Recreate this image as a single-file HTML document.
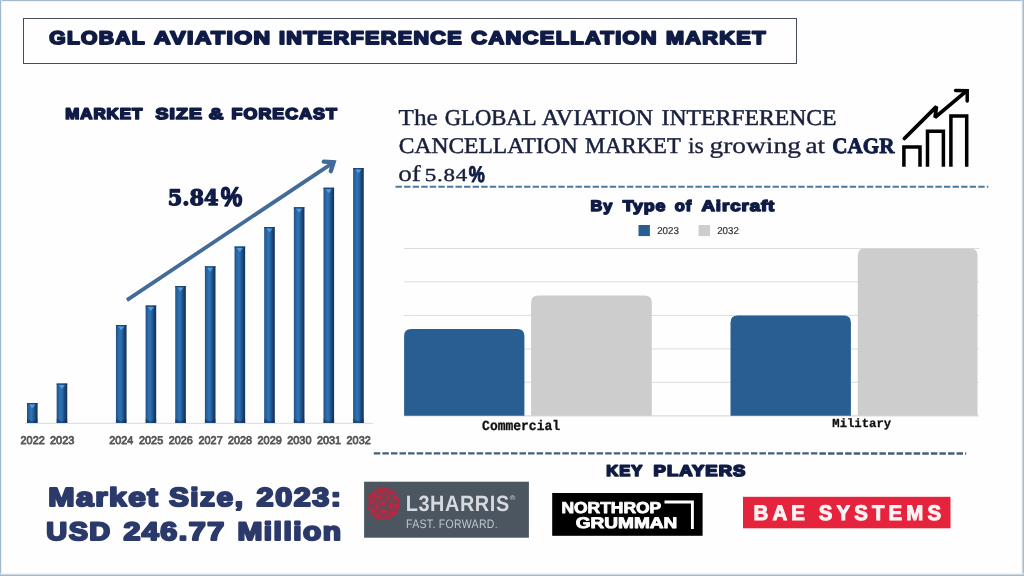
<!DOCTYPE html>
<html lang="en">
<head>
<meta charset="utf-8">
<title>Global Aviation Interference Cancellation Market</title>
<style>
html,body{margin:0;padding:0;background:#fefefe;}
body{width:1024px;height:576px;overflow:hidden;font-family:"Liberation Sans",sans-serif;}
svg{display:block;}
svg text{text-rendering:geometricPrecision;}
</style>
</head>
<body>
<svg width="1024" height="576" viewBox="0 0 1024 576" role="img" aria-label="Global Aviation Interference Cancellation Market infographic">
<defs>
<linearGradient id="bar" x1="0" x2="1" y1="0" y2="0">
<stop offset="0" stop-color="#1c4b7f"/>
<stop offset="0.14" stop-color="#2561a0"/>
<stop offset="0.4" stop-color="#2f74b5"/>
<stop offset="0.6" stop-color="#26609d"/>
<stop offset="0.8" stop-color="#1a4271"/>
<stop offset="1" stop-color="#13315a"/>
</linearGradient>
</defs>
<rect x="0" y="0" width="1024" height="576" fill="#fefefe"/>
<rect x="0" y="0" width="1024" height="1" fill="#a4b9ca"/>
<rect x="0" y="1" width="1024" height="1" fill="#e4f0f8" opacity="0.7"/>
<rect x="0" y="0" width="1" height="576" fill="#9fb8cc"/>
<rect x="1" y="0" width="1" height="576" fill="#e4f0f8" opacity="0.7"/>
<rect x="1022.4" y="0" width="1.6" height="576" fill="#a4b9ca"/>
<rect x="1021" y="0" width="1.4" height="576" fill="#e4f0f8" opacity="0.7"/>
<rect x="0" y="574.4" width="1024" height="1.6" fill="#a4b9ca"/>
<rect x="0" y="573" width="1024" height="1.4" fill="#e4f0f8" opacity="0.7"/>
<rect x="23.5" y="18.5" width="773" height="45" fill="none" stroke="#474c5c" stroke-width="1"/>
<g id="forecast-chart">
<line x1="25" y1="423.3" x2="373" y2="423.3" stroke="#d9d9d9" stroke-width="1"/>
<rect x="27.00" y="403" width="10.6" height="20.0" fill="url(#bar)"/>
<rect x="27.00" y="403" width="10.6" height="1.2" fill="#1a3f6c" opacity="0.8"/>
<path d="M29.20 404.5 h6.2 l-3.1 4 z" fill="#5aa6e8" opacity="0.8"/>
<path d="M27.00 418.8 L32.30 421.4 L37.60 418.8 V423 H27.00 Z" fill="#12305a" opacity="0.5"/>
<rect x="56.65" y="383.5" width="10.6" height="39.5" fill="url(#bar)"/>
<rect x="56.65" y="383.5" width="10.6" height="1.2" fill="#1a3f6c" opacity="0.8"/>
<path d="M58.85 385.0 h6.2 l-3.1 4 z" fill="#5aa6e8" opacity="0.8"/>
<path d="M56.65 418.8 L61.95 421.4 L67.25 418.8 V423 H56.65 Z" fill="#12305a" opacity="0.5"/>
<rect x="115.95" y="325" width="10.6" height="98.0" fill="url(#bar)"/>
<rect x="115.95" y="325" width="10.6" height="1.2" fill="#1a3f6c" opacity="0.8"/>
<path d="M118.15 326.5 h6.2 l-3.1 4 z" fill="#5aa6e8" opacity="0.8"/>
<path d="M115.95 418.8 L121.25 421.4 L126.55 418.8 V423 H115.95 Z" fill="#12305a" opacity="0.5"/>
<rect x="145.60" y="305.5" width="10.6" height="117.5" fill="url(#bar)"/>
<rect x="145.60" y="305.5" width="10.6" height="1.2" fill="#1a3f6c" opacity="0.8"/>
<path d="M147.80 307.0 h6.2 l-3.1 4 z" fill="#5aa6e8" opacity="0.8"/>
<path d="M145.60 418.8 L150.90 421.4 L156.20 418.8 V423 H145.60 Z" fill="#12305a" opacity="0.5"/>
<rect x="175.25" y="286" width="10.6" height="137.0" fill="url(#bar)"/>
<rect x="175.25" y="286" width="10.6" height="1.2" fill="#1a3f6c" opacity="0.8"/>
<path d="M177.45 287.5 h6.2 l-3.1 4 z" fill="#5aa6e8" opacity="0.8"/>
<path d="M175.25 418.8 L180.55 421.4 L185.85 418.8 V423 H175.25 Z" fill="#12305a" opacity="0.5"/>
<rect x="204.90" y="266.3" width="10.6" height="156.7" fill="url(#bar)"/>
<rect x="204.90" y="266.3" width="10.6" height="1.2" fill="#1a3f6c" opacity="0.8"/>
<path d="M207.10 267.8 h6.2 l-3.1 4 z" fill="#5aa6e8" opacity="0.8"/>
<path d="M204.90 418.8 L210.20 421.4 L215.50 418.8 V423 H204.90 Z" fill="#12305a" opacity="0.5"/>
<rect x="234.55" y="246.5" width="10.6" height="176.5" fill="url(#bar)"/>
<rect x="234.55" y="246.5" width="10.6" height="1.2" fill="#1a3f6c" opacity="0.8"/>
<path d="M236.75 248.0 h6.2 l-3.1 4 z" fill="#5aa6e8" opacity="0.8"/>
<path d="M234.55 418.8 L239.85 421.4 L245.15 418.8 V423 H234.55 Z" fill="#12305a" opacity="0.5"/>
<rect x="264.20" y="227" width="10.6" height="196.0" fill="url(#bar)"/>
<rect x="264.20" y="227" width="10.6" height="1.2" fill="#1a3f6c" opacity="0.8"/>
<path d="M266.40 228.5 h6.2 l-3.1 4 z" fill="#5aa6e8" opacity="0.8"/>
<path d="M264.20 418.8 L269.50 421.4 L274.80 418.8 V423 H264.20 Z" fill="#12305a" opacity="0.5"/>
<rect x="293.85" y="207.2" width="10.6" height="215.8" fill="url(#bar)"/>
<rect x="293.85" y="207.2" width="10.6" height="1.2" fill="#1a3f6c" opacity="0.8"/>
<path d="M296.05 208.7 h6.2 l-3.1 4 z" fill="#5aa6e8" opacity="0.8"/>
<path d="M293.85 418.8 L299.15 421.4 L304.45 418.8 V423 H293.85 Z" fill="#12305a" opacity="0.5"/>
<rect x="323.50" y="187.7" width="10.6" height="235.3" fill="url(#bar)"/>
<rect x="323.50" y="187.7" width="10.6" height="1.2" fill="#1a3f6c" opacity="0.8"/>
<path d="M325.70 189.2 h6.2 l-3.1 4 z" fill="#5aa6e8" opacity="0.8"/>
<path d="M323.50 418.8 L328.80 421.4 L334.10 418.8 V423 H323.50 Z" fill="#12305a" opacity="0.5"/>
<rect x="353.15" y="168" width="10.6" height="255.0" fill="url(#bar)"/>
<rect x="353.15" y="168" width="10.6" height="1.2" fill="#1a3f6c" opacity="0.8"/>
<path d="M355.35 169.5 h6.2 l-3.1 4 z" fill="#5aa6e8" opacity="0.8"/>
<path d="M353.15 418.8 L358.45 421.4 L363.75 418.8 V423 H353.15 Z" fill="#12305a" opacity="0.5"/>
<g fill="none" stroke="#416c98" stroke-width="4.4">
<path d="M126.9 300.1 L333.2 162.6" stroke-linecap="butt" stroke-width="3.8"/>
<path d="M323.8 161.6 L333.6 162.2 L330.8 171.2" stroke-linecap="round" stroke-linejoin="miter"/>
</g>
</g>
<line x1="395.5" y1="186.8" x2="988.3" y2="186.8" stroke="#4b7a9c" stroke-width="2.1" stroke-dasharray="6.4 2.17"/>
<line x1="373.8" y1="453.4" x2="966.2" y2="453.5" stroke="#465f76" stroke-width="2.3" stroke-dasharray="6.5 2.07"/>
<g id="growth-icon" fill="none" stroke="#000" stroke-width="3.5" stroke-linejoin="miter" stroke-linecap="butt">
<path d="M903.9 166.8 V147 H920 V166.8"/>
<path d="M927.5 166.8 V131.2 H943.4 V166.8"/>
<path d="M950.9 166.8 V115.9 H966.7 V166.8"/>
<path d="M904.4 138.5 L936.4 106.6 L935.1 117.4 L966 91.4" stroke-width="3.8" stroke-linecap="round" stroke-linejoin="miter" stroke-miterlimit="2.2"/>
<path d="M955.5 90.4 L967.2 90.8 V101" stroke-linecap="round"/>
</g>
<g id="type-chart">
<line x1="404" y1="248.5" x2="979" y2="248.5" stroke="#dcdcdc" stroke-width="1"/>
<line x1="404" y1="281.8" x2="979" y2="281.8" stroke="#dcdcdc" stroke-width="1"/>
<line x1="404" y1="315.4" x2="979" y2="315.4" stroke="#dcdcdc" stroke-width="1"/>
<line x1="404" y1="348.9" x2="979" y2="348.9" stroke="#dcdcdc" stroke-width="1"/>
<line x1="404" y1="382.3" x2="979" y2="382.3" stroke="#dcdcdc" stroke-width="1"/>
<line x1="404" y1="415.9" x2="979" y2="415.9" stroke="#d0d0d0" stroke-width="1"/>
<path d="M404.1 415.7 V336 Q404.1 329 411.1 329 H517.4 Q524.4 329 524.4 336 V415.7 Z" fill="#285e92"/>
<path d="M531.1 415.7 V302.6 Q531.1 295.6 538.1 295.6 H644.8 Q651.8 295.6 651.8 302.6 V415.7 Z" fill="#cdcdcd"/>
<path d="M730.5 415.7 V322.6 Q730.5 315.6 737.5 315.6 H843.9 Q850.9 315.6 850.9 322.6 V415.7 Z" fill="#285e92"/>
<path d="M857.8 415.7 V255.4 Q857.8 248.4 864.8 248.4 H970.5 Q977.5 248.4 977.5 255.4 V415.7 Z" fill="#cdcdcd"/>
<rect x="638.5" y="225" width="11.4" height="11.1" fill="#285e92"/>
<rect x="698.6" y="225" width="11.4" height="11.1" fill="#cdcdcd"/>
</g>
<g id="logo-l3harris">
<rect x="364.1" y="481.7" width="164.8" height="56" fill="#4b5660"/>
<circle cx="383.2" cy="503.6" r="16.0" fill="#c21f3a" opacity="0.25"/>
<path d="M383.2 503.6L391.1 506.5 M383.2 503.6L383.7 511.5 M383.2 503.6L376.7 506.0 M383.2 503.6L379.8 497.6 M383.2 503.6L388.7 497.9 M391.1 506.5L383.7 511.5 M383.7 511.5L376.7 506.0 M376.7 506.0L379.8 497.6 M379.8 497.6L388.7 497.9 M388.7 497.9L391.1 506.5 M391.1 506.5L396.9 505.2 M388.7 497.9L396.9 505.2 M391.1 506.5L393.7 512.6 M383.7 511.5L393.7 512.6 M383.7 511.5L386.8 516.6 M391.1 506.5L386.8 516.6 M383.7 511.5L378.8 515.8 M376.7 506.0L378.8 515.8 M376.7 506.0L372.8 510.5 M383.7 511.5L372.8 510.5 M376.7 506.0L371.1 502.6 M379.8 497.6L371.1 502.6 M379.8 497.6L374.3 495.2 M376.7 506.0L374.3 495.2 M379.8 497.6L381.2 491.2 M388.7 497.9L381.2 491.2 M388.7 497.9L389.2 492.0 M379.8 497.6L389.2 492.0 M388.7 497.9L395.2 497.3 M391.1 506.5L395.2 497.3 M396.9 505.2L393.7 512.6 M393.7 512.6L386.8 516.6 M386.8 516.6L378.8 515.8 M378.8 515.8L372.8 510.5 M372.8 510.5L371.1 502.6 M371.1 502.6L374.3 495.2 M374.3 495.2L381.2 491.2 M381.2 491.2L389.2 492.0 M389.2 492.0L395.2 497.3 M395.2 497.3L396.9 505.2 M396.9 505.2L398.9 506.8 M393.7 512.6L398.9 506.8 M393.7 512.6L395.9 513.3 M396.9 505.2L395.9 513.3 M386.8 516.6L390.5 517.8 M393.7 512.6L390.5 517.8 M386.8 516.6L383.6 519.6 M378.8 515.8L383.6 519.6 M378.8 515.8L376.6 518.2 M372.8 510.5L376.6 518.2 M372.8 510.5L370.9 513.9 M378.8 515.8L370.9 513.9 M372.8 510.5L367.7 507.5 M371.1 502.6L367.7 507.5 M371.1 502.6L367.5 500.4 M374.3 495.2L367.5 500.4 M374.3 495.2L370.5 493.9 M371.1 502.6L370.5 493.9 M381.2 491.2L375.9 489.4 M374.3 495.2L375.9 489.4 M381.2 491.2L382.8 487.6 M389.2 492.0L382.8 487.6 M389.2 492.0L389.8 489.0 M381.2 491.2L389.8 489.0 M395.2 497.3L395.5 493.3 M389.2 492.0L395.5 493.3 M395.2 497.3L398.7 499.7 M396.9 505.2L398.7 499.7 M398.9 506.8L395.9 513.3 M395.9 513.3L390.5 517.8 M390.5 517.8L383.6 519.6 M383.6 519.6L376.6 518.2 M376.6 518.2L370.9 513.9 M370.9 513.9L367.7 507.5 M367.7 507.5L367.5 500.4 M367.5 500.4L370.5 493.9 M370.5 493.9L375.9 489.4 M375.9 489.4L382.8 487.6 M382.8 487.6L389.8 489.0 M389.8 489.0L395.5 493.3 M395.5 493.3L398.7 499.7 M398.7 499.7L398.9 506.8" stroke="#cc1f3b" stroke-width="1.0" fill="none" opacity="0.72" stroke-linecap="round"/>
<circle cx="383.2" cy="503.6" r="1.5" fill="#d81e3c" opacity="0.9"/>
<circle cx="391.1" cy="506.5" r="1.5" fill="#d81e3c" opacity="0.9"/>
<circle cx="383.7" cy="511.5" r="1.5" fill="#d81e3c" opacity="0.9"/>
<circle cx="376.7" cy="506.0" r="1.5" fill="#d81e3c" opacity="0.9"/>
<circle cx="379.8" cy="497.6" r="1.5" fill="#d81e3c" opacity="0.9"/>
<circle cx="388.7" cy="497.9" r="1.5" fill="#d81e3c" opacity="0.9"/>
<circle cx="396.9" cy="505.2" r="1.5" fill="#d81e3c" opacity="0.9"/>
<circle cx="393.7" cy="512.6" r="1.5" fill="#d81e3c" opacity="0.9"/>
<circle cx="386.8" cy="516.6" r="1.5" fill="#d81e3c" opacity="0.9"/>
<circle cx="378.8" cy="515.8" r="1.5" fill="#d81e3c" opacity="0.9"/>
<circle cx="372.8" cy="510.5" r="1.5" fill="#d81e3c" opacity="0.9"/>
<circle cx="371.1" cy="502.6" r="1.5" fill="#d81e3c" opacity="0.9"/>
<circle cx="374.3" cy="495.2" r="1.5" fill="#d81e3c" opacity="0.9"/>
<circle cx="381.2" cy="491.2" r="1.5" fill="#d81e3c" opacity="0.9"/>
<circle cx="389.2" cy="492.0" r="1.5" fill="#d81e3c" opacity="0.9"/>
<circle cx="395.2" cy="497.3" r="1.5" fill="#d81e3c" opacity="0.9"/>
</g>
<g id="logo-northrop">
<rect x="552.2" y="493" width="150.4" height="42.8" fill="#000"/>
<path d="M664.5 502 H692.4 V529" fill="none" stroke="#fff" stroke-width="2.9"/>
</g>
<g id="logo-bae">
<rect x="743" y="496.8" width="207.5" height="31.5" fill="#e5233d"/>
</g>
<g id="title">
<text transform="translate(49.33,44.09) scale(1.1544,1)" font-family="'Liberation Sans', sans-serif" font-weight="bold" font-size="18.24" fill="#101c46" stroke="#101c46" stroke-width="1.8" stroke-linejoin="round" letter-spacing="1.095">GLOBAL</text>
<text transform="translate(154.03,44.09) scale(1.2592,1)" font-family="'Liberation Sans', sans-serif" font-weight="bold" font-size="18.24" fill="#101c46" stroke="#101c46" stroke-width="1.8" stroke-linejoin="round" letter-spacing="1.095">AVIATION</text>
<text transform="translate(279.02,44.09) scale(1.1872,1)" font-family="'Liberation Sans', sans-serif" font-weight="bold" font-size="18.24" fill="#101c46" stroke="#101c46" stroke-width="1.8" stroke-linejoin="round" letter-spacing="1.095">INTERFERENCE</text>
<text transform="translate(471.37,44.09) scale(1.1990,1)" font-family="'Liberation Sans', sans-serif" font-weight="bold" font-size="18.24" fill="#101c46" stroke="#101c46" stroke-width="1.8" stroke-linejoin="round" letter-spacing="1.095">CANCELLATION</text>
<text transform="translate(665.96,44.09) scale(1.1917,1)" font-family="'Liberation Sans', sans-serif" font-weight="bold" font-size="18.24" fill="#101c46" stroke="#101c46" stroke-width="1.8" stroke-linejoin="round" letter-spacing="1.095">MARKET</text>
</g>
<g id="forecast-heading">
<text transform="translate(65.13,118.64) scale(1.0890,1)" font-family="'Liberation Sans', sans-serif" font-weight="bold" font-size="15.50" fill="#101c46" stroke="#101c46" stroke-width="1.7" stroke-linejoin="round" letter-spacing="0.930">MARKET</text>
<text transform="translate(155.44,118.64) scale(1.2488,1)" font-family="'Liberation Sans', sans-serif" font-weight="bold" font-size="15.50" fill="#101c46" stroke="#101c46" stroke-width="1.7" stroke-linejoin="round" letter-spacing="0.930">SIZE</text>
<text transform="translate(208.84,118.64) scale(1.3066,1)" font-family="'Liberation Sans', sans-serif" font-weight="bold" font-size="15.50" fill="#101c46" stroke="#101c46" stroke-width="1.7" stroke-linejoin="round" letter-spacing="0.930">&amp;</text>
<text transform="translate(231.59,118.64) scale(1.1468,1)" font-family="'Liberation Sans', sans-serif" font-weight="bold" font-size="15.50" fill="#101c46" stroke="#101c46" stroke-width="1.7" stroke-linejoin="round" letter-spacing="0.930">FORECAST</text>
</g>
<g id="type-heading">
<text transform="translate(590.58,211.22) scale(1.0650,1)" font-family="'Liberation Sans', sans-serif" font-weight="bold" font-size="15.32" fill="#101c46" stroke="#101c46" stroke-width="1.5" stroke-linejoin="round" letter-spacing="0.766">By</text>
<text transform="translate(622.68,211.22) scale(1.1593,1)" font-family="'Liberation Sans', sans-serif" font-weight="bold" font-size="15.32" fill="#101c46" stroke="#101c46" stroke-width="1.5" stroke-linejoin="round" letter-spacing="0.766">Type</text>
<text transform="translate(674.79,211.22) scale(1.0721,1)" font-family="'Liberation Sans', sans-serif" font-weight="bold" font-size="15.32" fill="#101c46" stroke="#101c46" stroke-width="1.5" stroke-linejoin="round" letter-spacing="0.766">of</text>
<text transform="translate(701.43,211.22) scale(1.2182,1)" font-family="'Liberation Sans', sans-serif" font-weight="bold" font-size="15.32" fill="#101c46" stroke="#101c46" stroke-width="1.5" stroke-linejoin="round" letter-spacing="0.766">Aircraft</text>
</g>
<g id="key-players-heading">
<text transform="translate(606.17,476.24) scale(1.0612,1)" font-family="'Liberation Sans', sans-serif" font-weight="bold" font-size="15.64" fill="#101c46" stroke="#101c46" stroke-width="1.7" stroke-linejoin="round" letter-spacing="0.938">KEY</text>
<text transform="translate(653.53,476.24) scale(1.1776,1)" font-family="'Liberation Sans', sans-serif" font-weight="bold" font-size="15.64" fill="#101c46" stroke="#101c46" stroke-width="1.7" stroke-linejoin="round" letter-spacing="0.938">PLAYERS</text>
</g>
<g id="market-size">
<text transform="translate(48.20,505.66) scale(1.2185,1)" font-family="'Liberation Sans', sans-serif" font-weight="bold" font-size="25.91" fill="#2b3a6b" stroke="#2b3a6b" stroke-width="2.1" stroke-linejoin="round" letter-spacing="1.296">Market</text>
<text transform="translate(168.93,505.66) scale(1.1524,1)" font-family="'Liberation Sans', sans-serif" font-weight="bold" font-size="25.91" fill="#2b3a6b" stroke="#2b3a6b" stroke-width="2.1" stroke-linejoin="round" letter-spacing="1.296">Size,</text>
<text transform="translate(256.62,505.66) scale(1.1796,1)" font-family="'Liberation Sans', sans-serif" font-weight="bold" font-size="25.91" fill="#2b3a6b" stroke="#2b3a6b" stroke-width="2.1" stroke-linejoin="round" letter-spacing="1.296">2023:</text>
<text transform="translate(46.33,539.55) scale(1.1402,1)" font-family="'Liberation Sans', sans-serif" font-weight="bold" font-size="25.34" fill="#2b3a6b" stroke="#2b3a6b" stroke-width="2.1" stroke-linejoin="round" letter-spacing="1.267">USD</text>
<text transform="translate(123.39,539.55) scale(1.2019,1)" font-family="'Liberation Sans', sans-serif" font-weight="bold" font-size="25.34" fill="#2b3a6b" stroke="#2b3a6b" stroke-width="2.1" stroke-linejoin="round" letter-spacing="1.267">246.77</text>
<text transform="translate(237.46,539.55) scale(1.1791,1)" font-family="'Liberation Sans', sans-serif" font-weight="bold" font-size="25.34" fill="#2b3a6b" stroke="#2b3a6b" stroke-width="2.1" stroke-linejoin="round" letter-spacing="1.267">Million</text>
</g>
<g id="cagr-label">
<text transform="translate(167.68,205.29) scale(0.9798,1)" font-family="'DejaVu Serif', 'Liberation Serif', serif" font-weight="bold" font-size="21.36" fill="#101c46" stroke="#101c46" stroke-width="1.3" stroke-linejoin="round">5.84</text>
<text transform="translate(220.81,205.70) scale(0.8996,1)" font-family="'Liberation Sans', sans-serif" font-weight="bold" font-size="26.96" fill="#101c46" stroke="#101c46" stroke-width="1.4" stroke-linejoin="round">%</text>
</g>
<g id="summary">
<text transform="translate(398.42,124.91) scale(1.1079,1)" font-family="'Liberation Serif', serif" font-weight="normal" font-size="22.87" fill="#181f3c" stroke="#181f3c" stroke-width="0.3" stroke-linejoin="round">The</text>
<text transform="translate(444.74,124.83) scale(1.0014,1)" font-family="'Liberation Serif', serif" font-weight="normal" font-size="22.60" fill="#181f3c" stroke="#181f3c" stroke-width="0.5" stroke-linejoin="round">GLOBAL</text>
<text transform="translate(541.65,124.83) scale(1.0612,1)" font-family="'Liberation Serif', serif" font-weight="normal" font-size="22.60" fill="#181f3c" stroke="#181f3c" stroke-width="0.5" stroke-linejoin="round">AVIATION</text>
<text transform="translate(661.62,124.83) scale(1.0480,1)" font-family="'Liberation Serif', serif" font-weight="normal" font-size="22.60" fill="#181f3c" stroke="#181f3c" stroke-width="0.5" stroke-linejoin="round">INTERFERENCE</text>
<text transform="translate(398.78,152.83) scale(1.0480,1)" font-family="'Liberation Serif', serif" font-weight="normal" font-size="22.44" fill="#181f3c" stroke="#181f3c" stroke-width="0.5" stroke-linejoin="round">CANCELLATION</text>
<text transform="translate(585.08,152.83) scale(1.0095,1)" font-family="'Liberation Serif', serif" font-weight="normal" font-size="22.44" fill="#181f3c" stroke="#181f3c" stroke-width="0.5" stroke-linejoin="round">MARKET</text>
<text transform="translate(687.90,152.92) scale(1.0560,1)" font-family="'Liberation Serif', serif" font-weight="normal" font-size="22.72" fill="#181f3c" stroke="#181f3c" stroke-width="0.3" stroke-linejoin="round">is</text>
<text transform="translate(709.48,152.92) scale(1.2068,1)" font-family="'Liberation Serif', serif" font-weight="normal" font-size="22.72" fill="#181f3c" stroke="#181f3c" stroke-width="0.3" stroke-linejoin="round">growing</text>
<text transform="translate(805.43,152.92) scale(1.1987,1)" font-family="'Liberation Serif', serif" font-weight="normal" font-size="22.72" fill="#181f3c" stroke="#181f3c" stroke-width="0.3" stroke-linejoin="round">at</text>
<text transform="translate(832.33,152.65) scale(0.9663,1)" font-family="'Liberation Serif', serif" font-weight="bold" font-size="21.89" fill="#101c46" stroke="#101c46" stroke-width="0.9" stroke-linejoin="round">CAGR</text>
<text transform="translate(398.19,181.06) scale(1.2032,1)" font-family="'Liberation Serif', serif" font-weight="normal" font-size="22.64" fill="#181f3c" stroke="#181f3c" stroke-width="0.3" stroke-linejoin="round">of</text>
<text transform="translate(424.86,180.85) scale(1.2568,1)" font-family="'Liberation Serif', serif" font-weight="normal" font-size="18.29" fill="#181f3c" stroke="#181f3c" stroke-width="0.4" stroke-linejoin="round" letter-spacing="0.549">5.84</text>
<text transform="translate(468.76,181.62) scale(0.7998,1)" font-family="'Liberation Sans', sans-serif" font-weight="bold" font-size="22.54" fill="#101c46" stroke="#101c46" stroke-width="1.0" stroke-linejoin="round">%</text>
</g>
<g id="legend">
<text transform="translate(657.17,233.81) scale(0.9745,1)" font-family="'Liberation Sans', sans-serif" font-weight="normal" font-size="10.03" fill="#2f2f2f" stroke="#2f2f2f" stroke-width="0.2" stroke-linejoin="round">2023</text>
<text transform="translate(717.14,233.81) scale(0.9722,1)" font-family="'Liberation Sans', sans-serif" font-weight="normal" font-size="10.03" fill="#2f2f2f" stroke="#2f2f2f" stroke-width="0.2" stroke-linejoin="round">2032</text>
</g>
<g id="year-labels">
<text transform="translate(20.52,443.54) scale(0.9791,1)" font-family="'Liberation Sans', sans-serif" font-weight="normal" font-size="11.13" fill="#585858" stroke="#585858" stroke-width="0.8" stroke-linejoin="round">2022</text>
<text transform="translate(50.01,443.54) scale(0.9849,1)" font-family="'Liberation Sans', sans-serif" font-weight="normal" font-size="11.13" fill="#585858" stroke="#585858" stroke-width="0.8" stroke-linejoin="round">2023</text>
<text transform="translate(109.32,443.54) scale(0.9725,1)" font-family="'Liberation Sans', sans-serif" font-weight="normal" font-size="11.13" fill="#585858" stroke="#585858" stroke-width="0.8" stroke-linejoin="round">2024</text>
<text transform="translate(139.05,443.54) scale(0.9748,1)" font-family="'Liberation Sans', sans-serif" font-weight="normal" font-size="11.13" fill="#585858" stroke="#585858" stroke-width="0.8" stroke-linejoin="round">2025</text>
<text transform="translate(168.72,443.54) scale(0.9762,1)" font-family="'Liberation Sans', sans-serif" font-weight="normal" font-size="11.13" fill="#585858" stroke="#585858" stroke-width="0.8" stroke-linejoin="round">2026</text>
<text transform="translate(198.45,443.54) scale(0.9796,1)" font-family="'Liberation Sans', sans-serif" font-weight="normal" font-size="11.13" fill="#585858" stroke="#585858" stroke-width="0.8" stroke-linejoin="round">2027</text>
<text transform="translate(228.10,443.54) scale(0.9687,1)" font-family="'Liberation Sans', sans-serif" font-weight="normal" font-size="11.13" fill="#585858" stroke="#585858" stroke-width="0.8" stroke-linejoin="round">2028</text>
<text transform="translate(257.51,443.54) scale(0.9833,1)" font-family="'Liberation Sans', sans-serif" font-weight="normal" font-size="11.13" fill="#585858" stroke="#585858" stroke-width="0.8" stroke-linejoin="round">2029</text>
<text transform="translate(287.25,443.54) scale(0.9797,1)" font-family="'Liberation Sans', sans-serif" font-weight="normal" font-size="11.13" fill="#585858" stroke="#585858" stroke-width="0.8" stroke-linejoin="round">2030</text>
<text transform="translate(316.90,443.54) scale(0.9800,1)" font-family="'Liberation Sans', sans-serif" font-weight="normal" font-size="11.13" fill="#585858" stroke="#585858" stroke-width="0.8" stroke-linejoin="round">2031</text>
<text transform="translate(346.56,443.54) scale(0.9758,1)" font-family="'Liberation Sans', sans-serif" font-weight="normal" font-size="11.13" fill="#585858" stroke="#585858" stroke-width="0.8" stroke-linejoin="round">2032</text>
</g>
<g id="category-labels">
<text transform="translate(482.10,429.76) scale(0.9361,1)" font-family="'Liberation Mono', monospace" font-weight="bold" font-size="13.88" fill="#111111" stroke="#111111" stroke-width="0.3" stroke-linejoin="round">Commercial</text>
<text transform="translate(832.32,426.97) scale(1.0018,1)" font-family="'Liberation Mono', monospace" font-weight="bold" font-size="12.23" fill="#111111" stroke="#111111" stroke-width="0.3" stroke-linejoin="round">Military</text>
</g>
<g id="logo-text">
<text transform="translate(405.74,511.00) scale(0.8957,1)" font-family="'Liberation Sans', sans-serif" font-weight="bold" font-size="22.16" fill="#d6d9dd" letter-spacing="0.665">L3HARRIS</text>
<text transform="translate(509.64,499.60) scale(1.1472,1)" font-family="'Liberation Sans', sans-serif" font-weight="normal" font-size="6.67" fill="#c9cdd1">®</text>
<text transform="translate(406.03,527.60) scale(0.8527,1)" font-family="'Liberation Sans', sans-serif" font-weight="normal" font-size="12.32" fill="#c3c7cc" letter-spacing="0.370">FAST. FORWARD.</text>
<text transform="translate(561.38,512.60) scale(1.1044,1)" font-family="'Liberation Sans', sans-serif" font-weight="bold" font-size="15.81" fill="#ffffff" stroke="#ffffff" stroke-width="0.9" stroke-linejoin="round">NORTHROP</text>
<text transform="translate(575.73,527.89) scale(1.2278,1)" font-family="'Liberation Sans', sans-serif" font-weight="bold" font-size="15.53" fill="#ffffff" stroke="#ffffff" stroke-width="0.9" stroke-linejoin="round">GRUMMAN</text>
<text transform="translate(753.55,520.15) scale(0.9674,1)" font-family="'Liberation Sans', sans-serif" font-weight="bold" font-size="21.15" fill="#fff4f5" stroke="#fff4f5" stroke-width="1.0" stroke-linejoin="round" letter-spacing="4.230">BAE SYSTEMS</text>
</g>
</svg>
</body>
</html>
